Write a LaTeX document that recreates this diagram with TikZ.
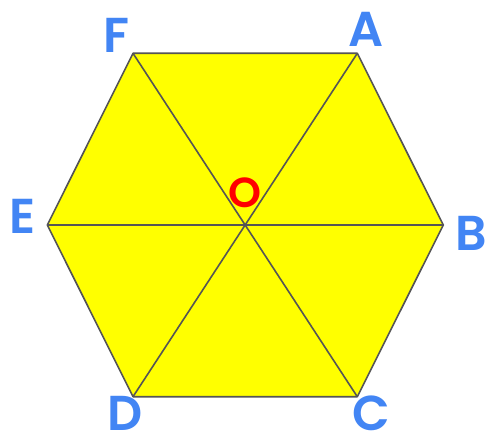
\documentclass[tikz,border=0pt]{standalone}
\usepackage{fontspec}
\setmainfont{Poppins}[UprightFont=* SemiBold]
\definecolor{lblblue}{RGB}{66,133,244}
\definecolor{edgegray}{RGB}{85,85,85}
\definecolor{hexfill}{RGB}{255,255,0}
\begin{document}
\begin{tikzpicture}[x=1pt,y=-1pt,
  vlabel/.style={inner sep=0pt,text=lblblue,font=\fontsize{49}{49}\selectfont},
  olabel/.style={inner sep=0pt,text=red,font=\fontsize{42}{42}\selectfont},
  edge/.style={draw=edgegray,line width=1.6pt,line join=round}]
\useasboundingbox (0,0) rectangle (487,435);
\coordinate (A) at (357.3,53.3);
\coordinate (B) at (443.3,225);
\coordinate (C) at (357.3,396.7);
\coordinate (D) at (133,396.7);
\coordinate (E) at (47.3,225);
\coordinate (F) at (133,53.3);
\coordinate (O) at (245.3,225);
\fill[hexfill] (A) -- (B) -- (C) -- (D) -- (E) -- (F) -- cycle;
\draw[edge] (A) -- (B) -- (C) -- (D) -- (E) -- (F) -- cycle;
\draw[edge] (A) -- (D);
\draw[edge] (B) -- (E);
\draw[edge] (C) -- (F);
\node[vlabel] (lA) at (366,29.5) {A};
\node[vlabel] (lB) at (471,233.5) {B};
\node[vlabel] (lC) at (371.5,413) {C};
\node[vlabel] (lD) at (125,413) {D};
\node[vlabel] (lE) at (23,216.5) {E};
\node[vlabel] (lF) at (116.5,35.5) {F};
\node[olabel] (lO) at (244.5,193) {O};
\end{tikzpicture}
\end{document}
